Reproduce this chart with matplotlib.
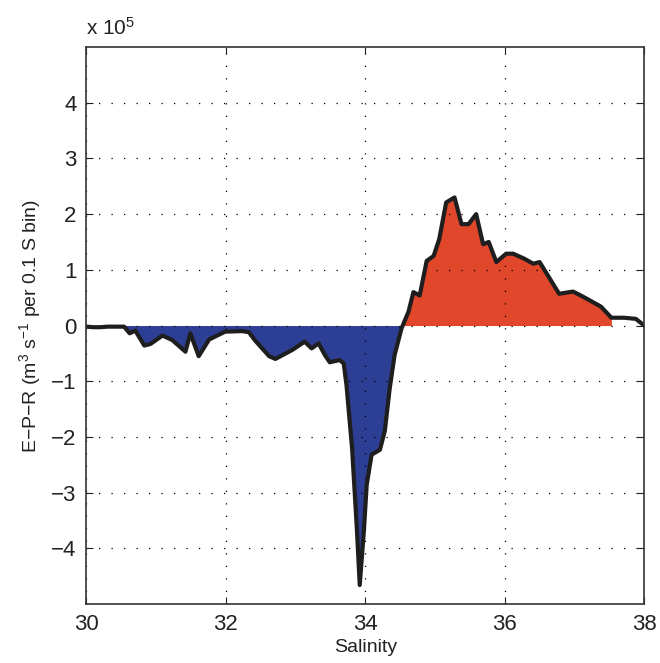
import numpy as np
import matplotlib.pyplot as plt

plt.rcParams['font.family'] = ['Liberation Sans', 'DejaVu Sans']
plt.rcParams['mathtext.fontset'] = 'custom'
plt.rcParams['mathtext.rm'] = 'Liberation Sans'
plt.rcParams['mathtext.it'] = 'Liberation Sans:italic'

# salinity bins and E-P-R transformation (units of 1e5 m^3/s per 0.1 S bin)
salinity = [30.0, 30.1, 30.2, 30.3, 30.4, 30.54, 30.62, 30.70, 30.83, 30.92,
            31.09, 31.23, 31.42, 31.49, 31.61, 31.76, 31.99, 32.23, 32.33, 32.42,
            32.62, 32.71, 32.95, 33.13, 33.23, 33.33, 33.42, 33.49, 33.63, 33.69,
            33.73, 33.81, 33.88, 33.92, 33.98, 34.02, 34.09, 34.21, 34.28, 34.35,
            34.42, 34.52, 34.62, 34.69, 34.78, 34.88, 34.98, 35.06, 35.16, 35.28,
            35.38, 35.48, 35.59, 35.69, 35.77, 35.88, 36.02, 36.12, 36.28, 36.41,
            36.50, 36.78, 36.98, 37.12, 37.38, 37.53, 37.71, 37.88, 38.0]
epr = [-0.02, -0.03, -0.03, -0.02, -0.02, -0.02, -0.14, -0.09, -0.36, -0.33,
       -0.18, -0.26, -0.47, -0.14, -0.55, -0.25, -0.11, -0.10, -0.12, -0.27,
       -0.55, -0.60, -0.44, -0.29, -0.41, -0.32, -0.53, -0.66, -0.62, -0.68,
       -1.07, -2.20, -3.68, -4.66, -3.68, -2.86, -2.32, -2.23, -1.89, -1.13,
       -0.53, -0.05, 0.25, 0.60, 0.54, 1.16, 1.25, 1.55, 2.21, 2.30,
       1.82, 1.82, 2.00, 1.46, 1.50, 1.14, 1.29, 1.29, 1.20, 1.11,
       1.14, 0.57, 0.61, 0.52, 0.34, 0.14, 0.14, 0.12, 0.0]

s = np.array(salinity)
v = np.array(epr)
# shaded range of bins
inside = (s >= 30.54) & (s <= 37.53)

fig = plt.figure(figsize=(6.6, 6.63), dpi=100)
ax = fig.add_axes([0.131, 0.089, 0.845, 0.84])

ax.fill_between(s, v, 0, where=inside & (v <= 0), interpolate=True, color='#2d3f94', lw=0)
ax.fill_between(s, v, 0, where=inside & (v >= 0), interpolate=True, color='#e0472b', lw=0)
ax.plot(s, v, color='#1e1e1e', lw=3, solid_joinstyle='round')

ax.set_xlim(30, 38)
ax.set_ylim(-5, 5)
ax.set_xticks([30, 32, 34, 36, 38])
ax.set_yticks(range(-4, 5))
ax.grid(True, color='k', linestyle=(0, (1, 9)), lw=0.9)
ax.tick_params(direction='in', labelsize=16, length=5, pad=7, top=True, right=True,
               colors='#222222')
for sp in ax.spines.values():
    sp.set_linewidth(1.2)
    sp.set_color('#333333')

ax.set_xlabel('Salinity', fontsize=14, labelpad=3, color='#222222')
ax.set_ylabel(r'E$-$P$-$R (m$^3$ s$^{-1}$ per 0.1 S bin)', fontsize=14, labelpad=6,
              color='#222222')
ax.text(0.0, 1.015, r'x 10$^5$', transform=ax.transAxes, fontsize=15, va='bottom',
        color='#222222')

fig.savefig('out.png', dpi=100)
